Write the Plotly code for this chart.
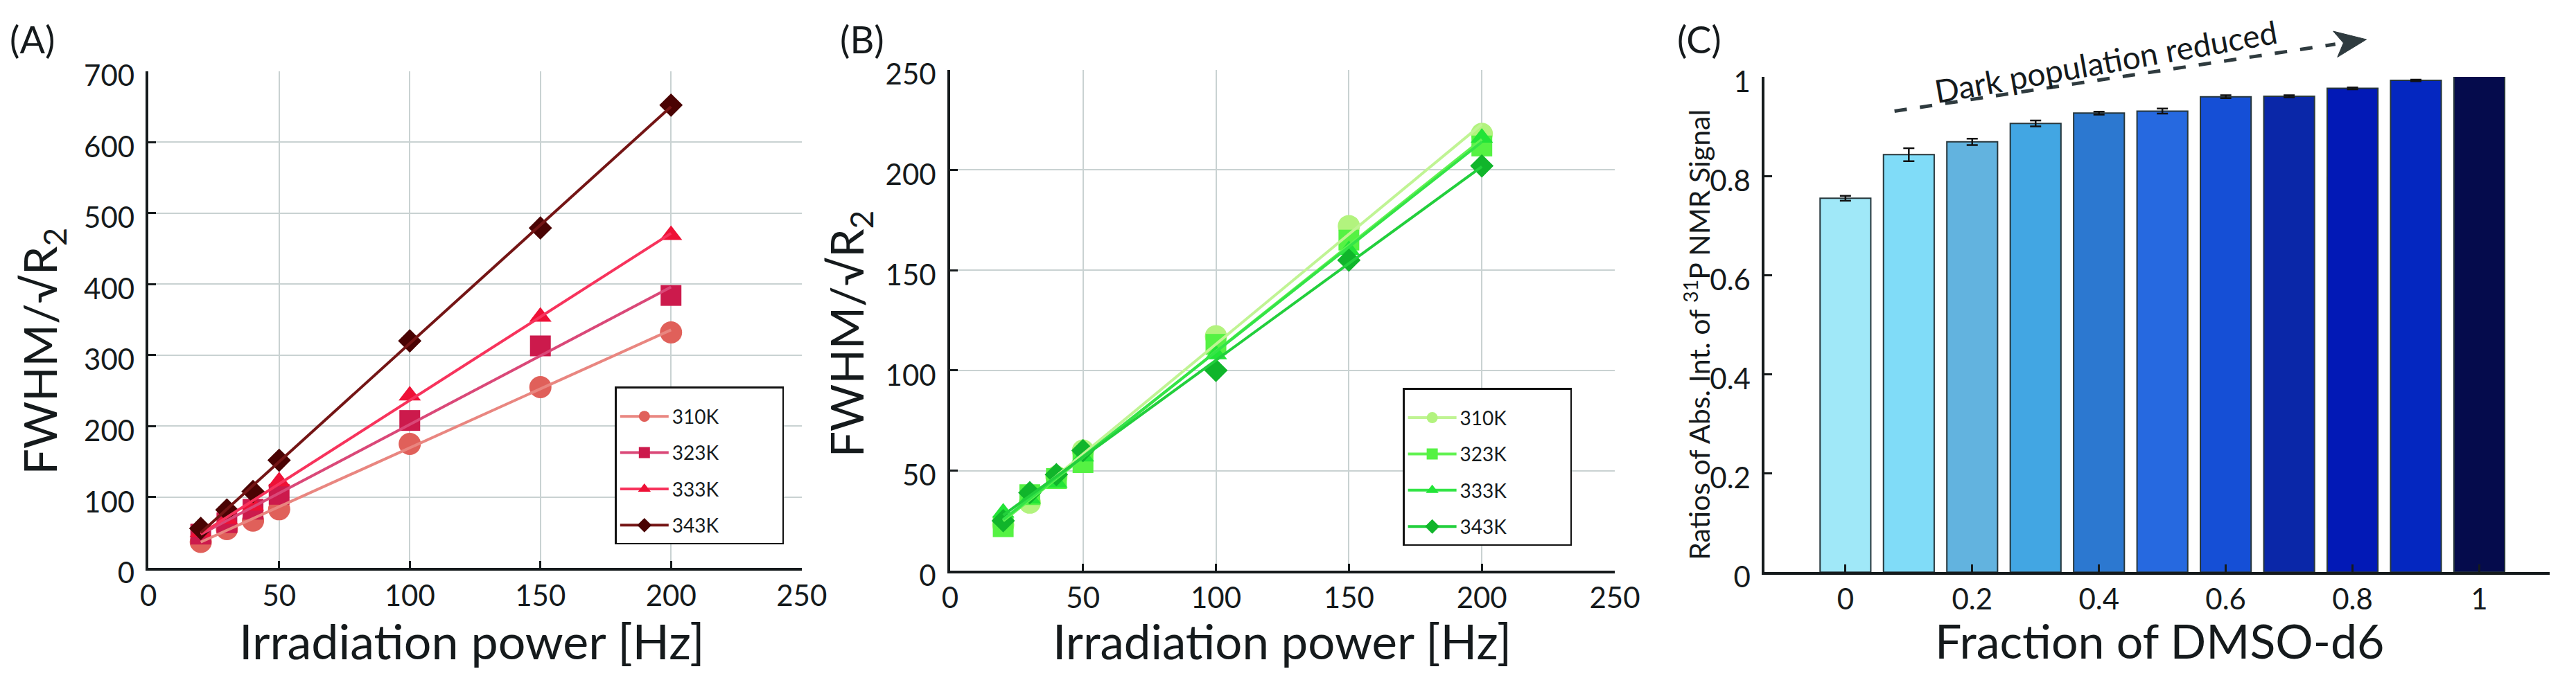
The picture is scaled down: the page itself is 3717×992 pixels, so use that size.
import numpy as np
import plotly.graph_objects as go

W, H = 3717, 992
FONT = "Lato"
INK = "#151a1c"

# ---------------- data ----------------
power_hz = [20, 30, 40, 50, 100, 150, 200]
temps = ["310K", "323K", "333K", "343K"]

# Panel A
fwhm_a_310 = [37, 55, 67, 83, 175, 255, 332]
fwhm_a_323 = [48, 64, 83, 104, 208, 313, 384]
fwhm_a_333 = [51, 69, 88, 122, 243, 354, 469]
fwhm_a_343 = [56, 82, 108, 152, 320, 479, 652]

# Panel B
fwhm_b_310 = [23, 34, 47, 60, 117, 172, 218]
fwhm_b_323 = [22, 38, 46, 54, 113, 165, 212]
fwhm_b_333 = [29, 36, 44, 57, 108, 160, 216]
fwhm_b_343 = [25, 39, 48, 60, 100, 155, 202]

# Panel C
dmso_fraction = [0, 0.1, 0.2, 0.3, 0.4, 0.5, 0.6, 0.7, 0.8, 0.9, 1.0]
signal_ratio = [0.755, 0.843, 0.869, 0.906, 0.927, 0.931, 0.960, 0.961, 0.977, 0.993, 1.013]
signal_err = [0.005, 0.013, 0.0065, 0.006, 0.003, 0.005, 0.003, 0.002, 0.002, 0.0015, 0.001]

x_ticks_ab = [0, 50, 100, 150, 200, 250]
y_ticks_a = [0, 100, 200, 300, 400, 500, 600, 700]
y_ticks_b = [0, 50, 100, 150, 200, 250]
x_ticks_c = [0, 0.2, 0.4, 0.6, 0.8, 1]
x_ticklabels_c = ["0", "0.2", "0.4", "0.6", "0.8", "1"]
y_ticks_c = [0, 0.2, 0.4, 0.6, 0.8, 1]
y_ticklabels_c = ["0", "0.2", "0.4", "0.6", "0.8", "1"]

# ---------------- styles ----------------
symbols = ["circle", "square", "triangle-up", "diamond"]
msizes = [32, 30, 28, 26]
a_marker = ["#e0605a", "#cc1a4c", "#ee1136", "#4a0303"]
a_line = ["#e98680", "#da4878", "#f7335c", "#741515"]
b_marker = ["#b2f37e", "#55f243", "#22e437", "#10b52b"]
b_line = ["#c0f494", "#62f252", "#34e447", "#22cf3c"]
bar_colors = ["#a0e8f8", "#80dcf8", "#62b3df", "#42a6e3", "#2c78d0", "#2669e0",
              "#154fd6", "#0a27a8", "#0219b6", "#0427c0", "#050b4c"]
NB = "\u00a0"


def px(xp):
    return xp / W


def py(yp):
    return 1 - yp / H


fig = go.Figure()


def add_panel(series, mcols, lcols, xa, ya, legend):
    for i, ys in enumerate(series):
        fig.add_trace(go.Scatter(
            x=power_hz, y=ys, mode="markers", xaxis=xa, yaxis=ya,
            marker=dict(symbol=symbols[i], size=msizes[i], color=mcols[i], line=dict(width=0)),
            showlegend=False, hoverinfo="x+y"))
    for i, ys in enumerate(series):
        k, b = np.polyfit(power_hz, ys, 1)
        xs = [power_hz[0], power_hz[-1]]
        fig.add_trace(go.Scatter(
            x=xs, y=[k * v + b for v in xs], mode="lines", xaxis=xa, yaxis=ya,
            line=dict(color=lcols[i], width=4), showlegend=False, hoverinfo="skip"))
    for i, t in enumerate(temps):
        fig.add_trace(go.Scatter(
            x=[None], y=[None], mode="lines+markers", name=t + NB * 12, xaxis=xa, yaxis=ya,
            legend=legend, legendgroup=legend + t,
            marker=dict(symbol=symbols[i], size=16, color=mcols[i]),
            line=dict(color=lcols[i], width=4)))


add_panel([fwhm_a_310, fwhm_a_323, fwhm_a_333, fwhm_a_343], a_marker, a_line, "x", "y", "legend")
add_panel([fwhm_b_310, fwhm_b_323, fwhm_b_333, fwhm_b_343], b_marker, b_line, "x2", "y2", "legend2")

fig.add_trace(go.Bar(
    x=dmso_fraction, y=signal_ratio, width=0.08, xaxis="x3", yaxis="y3",
    marker=dict(color=bar_colors, line=dict(color="#27373c", width=2)),
    error_y=dict(type="data", array=signal_err, color="#111111", thickness=2.5, width=8),
    cliponaxis=False, showlegend=False))

axis_common = dict(showline=True, linecolor=INK, linewidth=3.5, ticks="inside", ticklen=11,
                   tickwidth=3, tickcolor=INK, zeroline=False, mirror=False,
                   tickfont=dict(family=FONT, size=42, color=INK))
grid = dict(showgrid=True, gridcolor="#c9d2d2", gridwidth=2)

legend_common = dict(xanchor="left", yanchor="top", bgcolor="white", bordercolor="#111111",
                     borderwidth=2.5, font=dict(family=FONT, size=28, color=INK), itemwidth=70,
                     tracegroupgap=13, traceorder="grouped",
                     title=dict(text=NB, font=dict(size=12)))

fig.update_layout(
    width=W, height=H, autosize=False, margin=dict(l=0, r=0, t=0, b=0),
    paper_bgcolor="white", plot_bgcolor="white",
    font=dict(family=FONT, color=INK),
    xaxis=dict(domain=[px(205), px(1160)], range=[0, 250], tickvals=x_ticks_ab,
               anchor="y", ticklabelstandoff=0, **axis_common, **grid),
    yaxis=dict(domain=[py(844), py(88)], range=[0, 700], tickvals=y_ticks_a,
               anchor="x", ticklabelstandoff=8, ticklabelshift=7, **axis_common, **grid),
    xaxis2=dict(domain=[px(1377), px(2349)], range=[0, 250], tickvals=x_ticks_ab,
                anchor="y2", ticklabelstandoff=0, **axis_common, **grid),
    yaxis2=dict(domain=[py(848), py(86)], range=[0, 250], tickvals=y_ticks_b,
                anchor="x2", ticklabelstandoff=8, ticklabelshift=7, **axis_common, **grid),
    xaxis3=dict(domain=[px(2568), px(3716)], range=[-0.1276, 1.111], tickvals=x_ticks_c,
                ticktext=x_ticklabels_c, anchor="y3", ticklabelstandoff=0, showgrid=False,
                **axis_common),
    yaxis3=dict(domain=[py(850), py(97)], range=[0, 1], tickvals=y_ticks_c,
                ticktext=y_ticklabels_c, anchor="x3", ticklabelstandoff=8, ticklabelshift=7,
                showgrid=False, **axis_common),
    legend=dict(x=px(887), y=py(568), **legend_common),
    legend2=dict(x=px(2039), y=py(570), **legend_common),
    showlegend=True,
)

ann = []


def text(x, y, s, size, angle=0, xanchor="center", yanchor="middle"):
    ann.append(dict(x=px(x), y=py(y), xref="paper", yref="paper", text=s, showarrow=False,
                    textangle=angle, xanchor=xanchor, yanchor=yanchor,
                    font=dict(family=FONT, size=size, color=INK)))


text(0, 40, "(A)", 54, xanchor="left")
text(1214, 40, "(B)", 54, xanchor="left")
text(2438, 40, "(C)", 54, xanchor="left")
text(678, 954, "Irradiation power [Hz]", 70)
text(1863, 955, "Irradiation power [Hz]", 69)
text(3146, 954, "Fraction of DMSO-d6", 68)
text(50, 514, "FWHM/√R<sub>2</sub>", 66, angle=-90)
text(1230, 487, "FWHM/√R<sub>2</sub>", 66, angle=-90)
text(2470, 489, "Ratios of Abs. Int. of <sup>31</sup>P NMR Signal", 41, angle=-90)
text(3067, 73, "Dark population reduced", 46, angle=-10)
fig.update_layout(annotations=ann)

# dashed arrow
x0, y0, xt, yt = 2758, 149, 3448, 40
ux, uy = xt - x0, yt - y0
L = (ux ** 2 + uy ** 2) ** 0.5
ux, uy = ux / L, uy / L
hl, hw = 46, 20
bx, by = xt - hl * ux, yt - hl * uy
fig.add_shape(type="line", xref="paper", yref="paper", x0=px(x0), y0=py(y0), x1=px(bx), y1=py(by),
              line=dict(color="#2f3b3f", width=5, dash="18px,19px"))
p1 = (bx - hw * uy, by + hw * ux)
p2 = (bx + hw * uy, by - hw * ux)
path = (f"M {px(xt)} {py(yt)} L {px(p1[0])} {py(p1[1])} "
        f"L {px(bx + 12 * ux)} {py(by + 12 * uy)} L {px(p2[0])} {py(p2[1])} Z")
fig.add_shape(type="path", xref="paper", yref="paper", path=path,
              fillcolor="#2f3b3f", line=dict(color="#2f3b3f", width=1))

fig.write_html("out.html", config={"displayModeBar": False},
               post_script="document.body.style.margin='0';")
